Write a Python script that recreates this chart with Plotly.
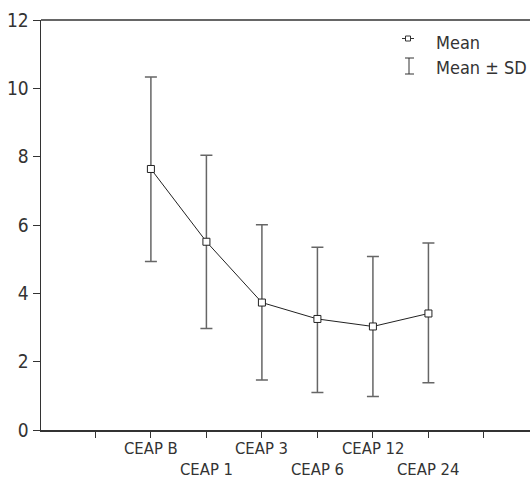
import plotly.graph_objects as go

categories = ["CEAP B", "CEAP 1", "CEAP 3", "CEAP 6", "CEAP 12", "CEAP 24"]
mean_vals = [7.64, 5.51, 3.73, 3.25, 3.03, 3.41]
upper_vals = [10.33, 8.04, 6.01, 5.35, 5.08, 5.47]
lower_vals = [4.93, 2.97, 1.46, 1.10, 0.98, 1.38]
y_ticks = [0, 2, 4, 6, 8, 10, 12]

xpos = list(range(1, len(categories) + 1))
err_plus = [u - m for u, m in zip(upper_vals, mean_vals)]
err_minus = [m - l for m, l in zip(mean_vals, lower_vals)]

FONT = "DejaVu Sans Condensed"
TXT = "#333333"

L, T, B, W, H = 41, 20, 47, 530, 477
PW = W - L
PH = H - T - B

fig = go.Figure()
fig.add_trace(go.Scatter(
    x=xpos, y=mean_vals, mode="lines+markers", name="Mean",
    line=dict(color="#222222", width=1),
    marker=dict(symbol="square", size=7, color="white", line=dict(color="#222222", width=1)),
    error_y=dict(type="data", symmetric=False, array=err_plus, arrayminus=err_minus,
                 color="#666666", thickness=1.5, width=6),
    showlegend=False, cliponaxis=False,
))

tickvals = list(range(0, len(categories) + 2))

fig.update_layout(
    width=W, height=H,
    margin=dict(l=L, r=0, t=T, b=B, pad=0),
    paper_bgcolor="white", plot_bgcolor="white",
    font=dict(family=FONT, size=16, color=TXT),
    xaxis=dict(range=[-0.98, 7.83], tickvals=tickvals, showticklabels=False,
               automargin=False, fixedrange=True,
               showline=True, linecolor="#333333", linewidth=1.5, mirror=False,
               ticks="outside", ticklen=6, tickcolor="#333333", showgrid=False,
               zeroline=False),
    yaxis=dict(range=[0, 12], tickvals=y_ticks, showline=True, linecolor="#333333",
               automargin=False, mirror=False, fixedrange=True,
               linewidth=1.5, ticks="outside", ticklen=7, tickcolor="#333333",
               showgrid=False, zeroline=False, tickfont=dict(size=19)),
    showlegend=False,
    dragmode=False,
)

def px(x):
    return (x - L) / PW

def py(y):
    return (H - B - y) / PH

# Category labels, staggered in two rows under their ticks
for i, (xv, c) in enumerate(zip(xpos, categories)):
    fig.add_annotation(x=xv, xref="x", y=py(448.5 if i % 2 == 0 else 469.5), yref="paper",
                       text=c, showarrow=False, xanchor="center", yanchor="middle",
                       font=dict(size=16.5, color=TXT))

# Manual legend
shapes = [
    dict(type="line", xref="paper", yref="paper", x0=0, x1=1.0, y0=1, y1=1,
         line=dict(color="#333333", width=1.5)),
    dict(type="line", xref="paper", yref="paper", x0=px(402), x1=px(414),
         y0=py(38.5), y1=py(38.5), line=dict(color="#333333", width=1)),
    dict(type="rect", xref="paper", yref="paper", x0=px(405.5), x1=px(410.5),
         y0=py(41), y1=py(36), line=dict(color="#333333", width=1), fillcolor="white"),
    dict(type="line", xref="paper", yref="paper", x0=px(409), x1=px(409),
         y0=py(74), y1=py(58), line=dict(color="#333333", width=1)),
    dict(type="line", xref="paper", yref="paper", x0=px(405), x1=px(414),
         y0=py(58), y1=py(58), line=dict(color="#333333", width=1)),
    dict(type="line", xref="paper", yref="paper", x0=px(405), x1=px(414),
         y0=py(74), y1=py(74), line=dict(color="#333333", width=1)),
]
fig.update_layout(shapes=shapes)
fig.add_annotation(x=px(434), y=py(42), xref="paper", yref="paper",
                   text="Mean", showarrow=False, xanchor="left", yanchor="middle",
                   font=dict(size=18, color=TXT))
fig.add_annotation(x=px(434), y=py(67), xref="paper", yref="paper",
                   text="Mean ± SD", showarrow=False, xanchor="left", yanchor="middle",
                   font=dict(size=18, color=TXT))

fig.write_html("out.html", config={"displayModeBar": False, "staticPlot": True},
               post_script="document.body.style.margin='0';document.body.style.overflow='hidden';")
